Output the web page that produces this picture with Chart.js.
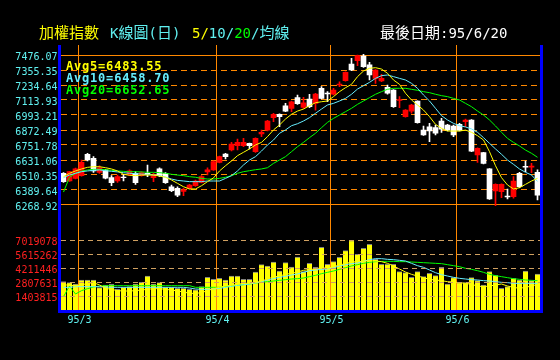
<!DOCTYPE html>
<html><head><meta charset="utf-8">
<script src="https://cdn.jsdelivr.net/npm/chart.js@4.4.1/dist/chart.umd.min.js"></script>
<style>
html,body{margin:0;padding:0;background:#000;}
#wrap{position:relative;width:560px;height:360px;overflow:hidden;background:#000;}
canvas{position:absolute;left:0;top:0;}
.t{position:absolute;white-space:nowrap;font-family:"Noto Sans CJK TC","DejaVu Sans Mono",monospace;font-size:15px;line-height:15px;}
.t .la{font-family:"DejaVu Sans Mono",monospace;font-size:14px;}
.lg{position:absolute;left:66px;white-space:nowrap;font-family:"DejaVu Sans Mono",monospace;font-weight:bold;font-size:12px;line-height:12px;letter-spacing:0.8px;}
</style></head>
<body><div id="wrap"><canvas id="c" width="560" height="360"></canvas>
<div class="t" style="left:39px;top:24px;color:#ffff00">加權指數</div>
<div class="t" style="left:110px;top:24px;color:#60f0f0"><span class="la">K</span>線圖<span class="la">(</span>日<span class="la">)</span></div>
<div class="t" style="left:192px;top:24px;color:#60f0f0"><span class="la" style="color:#ffff00">5/</span><span class="la">10/</span><span class="la" style="color:#00ff00">20</span><span class="la">/</span>均線</div>
<div class="t" id="lastDate" style="left:380px;top:24px;color:#ffffff"></div>
<div class="lg" id="lg5" style="top:60px;color:#ffff00"></div>
<div class="lg" id="lg10" style="top:72px;color:#66eeff"></div>
<div class="lg" id="lg20" style="top:84px;color:#00ff00"></div>
</div>
<script>
const categories = [
'95/02/23','95/02/24','95/02/27',
'95/03/01','95/03/02','95/03/03','95/03/06','95/03/07','95/03/08','95/03/09','95/03/10','95/03/13','95/03/14','95/03/15','95/03/16','95/03/17','95/03/20','95/03/21','95/03/22','95/03/23','95/03/24','95/03/27','95/03/28','95/03/29','95/03/30','95/03/31',
'95/04/03','95/04/04','95/04/06','95/04/07','95/04/10','95/04/11','95/04/12','95/04/13','95/04/14','95/04/17','95/04/18','95/04/19','95/04/20','95/04/21','95/04/24','95/04/25','95/04/26','95/04/27','95/04/28',
'95/05/02','95/05/03','95/05/04','95/05/05','95/05/08','95/05/09','95/05/10','95/05/11','95/05/12','95/05/15','95/05/16','95/05/17','95/05/18','95/05/19','95/05/22','95/05/23','95/05/24','95/05/25','95/05/26','95/05/29','95/05/30',
'95/06/01','95/06/02','95/06/05','95/06/06','95/06/07','95/06/08','95/06/09','95/06/12','95/06/13','95/06/14','95/06/15','95/06/16','95/06/19','95/06/20'];

const open  = [6524,6462,6483,6505,6677,6644,6532,6551,6489,6462, 6494,6510,6524,6505,6524,6489,6559,6524,6416,6403, 6379,6403,6424,6451,6535,6551,6612,6679,6712,6746, 6746,6765,6698,6840,6872,6972,6999,7068,7047,7133, 7055,7122,7087,7208,7170,7160,7235,7270,7404,7430, 7468,7396,7288,7267,7216,7194,7110,6980,7025,7106, 6872,6899,6891,6945,6913,6905,6918,6940,6953,6671, 6690,6559,6382,6376,6340,6336,6524,6580,6574,6532];
const high  = [6529,6540,6566,6631,6685,6658,6585,6556,6505,6510, 6516,6551,6537,6535,6591,6524,6569,6529,6430,6416, 6403,6435,6470,6505,6569,6625,6663,6685,6773,6800, 6805,6768,6810,6872,6950,7007,7002,7087,7106,7154, 7135,7160,7167,7221,7181,7207,7261,7340,7449,7476, 7481,7417,7358,7320,7235,7197,7141,7036,7079,7108, 6905,6926,6913,6966,6918,6913,6926,6961,6956,6730, 6693,6562,6440,6440,6398,6497,6532,6623,6604,6551];
const low   = [6451,6458,6478,6500,6623,6532,6524,6478,6424,6451, 6462,6505,6435,6500,6497,6457,6497,6443,6376,6336, 6344,6398,6418,6446,6510,6548,6607,6639,6704,6712, 6738,6720,6693,6819,6866,6940,6899,7020,7020,7079, 7047,7052,7033,7122,7100,7154,7221,7266,7350,7390, 7377,7275,7248,7262,7160,7055,7052,6975,7007,6928, 6829,6779,6832,6854,6866,6819,6866,6899,6698,6612, 6600,6314,6264,6328,6317,6323,6408,6537,6529,6309];
const close = [6457,6537,6559,6612,6631,6543,6569,6484,6449,6497, 6489,6543,6449,6529,6512,6503,6505,6449,6384,6349, 6390,6430,6462,6497,6551,6618,6658,6658,6760,6773, 6773,6746,6805,6854,6945,6999,6980,7025,7100,7084, 7092,7060,7162,7127,7163,7194,7243,7337,7355,7471, 7382,7315,7355,7288,7168,7060,7118,7033,7074,6932, 6832,6865,6846,6880,6872,6832,6870,6953,6703,6725, 6604,6317,6435,6435,6334,6462,6416,6574,6582,6349];

const ma5  = [6497,6524,6543,6559,6572,6577,6577,6569,6559,6543, 6516,6508,6505,6510,6510,6510,6502,6492,6470,6443, 6416,6398,6398,6424,6457,6487,6543,6585,6623,6666, 6693,6720,6752,6773,6819,6873,6913,6961,6999,7025, 7041,7068,7092,7100,7106,7141,7181,7213,7240,7302, 7347,7369,7374,7363,7329,7275,7240,7168,7114,7074, 7033,6980,6918,6886,6864,6864,6864,6872,6854,6827, 6792,6698,6585,6489,6430,6398,6408,6435,6462,6483.55];
const ma10 = [6489,6510,6524,6537,6543,6548,6551,6545,6540,6535, 6529,6524,6521,6518,6516,6510,6505,6494,6478,6467, 6462,6457,6457,6457,6462,6462,6462,6483,6505,6543, 6591,6631,6658,6703,6752,6792,6846,6873,6907,6923, 6945,6972,7007,7041,7074,7087,7106,7127,7160,7202, 7229,7256,7288,7310,7315,7302,7288,7275,7248,7208, 7154,7106,7047,6988,6953,6926,6907,6897,6881,6854, 6811,6765,6720,6677,6631,6596,6559,6532,6510,6458.70];
const ma20 = [6373,6492,6524,6542,6551,6556,6556,6553,6548,6543, 6540,6537,6537,6535,6532,6532,6529,6524,6516,6510, 6505,6497,6492,6483,6478,6478,6483,6492,6505,6524, 6537,6545,6553,6559,6569,6604,6631,6658,6698,6738, 6773,6811,6846,6891,6934,6966,6993,7020,7047,7079, 7106,7133,7160,7181,7200,7208,7208,7208,7200,7192, 7181,7173,7160,7149,7141,7127,7114,7087,7060,7025, 6993,6953,6905,6854,6805,6773,6744,6711,6685,6652.65];

const volume = [2.84e6,2.74e6,2.60e6,3.01e6,3.01e6,3.01e6,2.24e6,2.51e6,2.57e6,2.07e6, 2.27e6,2.34e6,2.61e6,2.77e6,3.41e6,2.61e6,2.74e6,2.27e6,2.27e6,2.17e6, 2.17e6,2.07e6,2.01e6,2.34e6,3.28e6,3.07e6,3.17e6,3.01e6,3.41e6,3.41e6, 3.07e6,3.07e6,3.81e6,4.55e6,4.41e6,4.81e6,3.91e6,4.75e6,4.31e6,5.31e6, 3.84e6,4.68e6,4.28e6,6.29e6,4.58e6,4.85e6,5.28e6,5.95e6,6.95e6,5.58e6, 6.18e6,6.58e6,5.08e6,4.58e6,4.58e6,4.58e6,3.84e6,3.74e6,3.27e6,3.84e6, 3.34e6,3.67e6,3.44e6,4.28e6,2.61e6,3.24e6,2.74e6,2.74e6,3.24e6,2.94e6, 2.51e6,3.84e6,3.48e6,2.17e6,2.34e6,3.17e6,3.01e6,3.91e6,2.94e6,3.61e6];
const volMa5  = [2.507e6,2.507e6,2.406e6,2.507e6,2.674e6,2.741e6,2.507e6,2.172e6,2.072e6,1.939e6, 1.905e6,1.905e6,1.939e6,2.005e6,2.072e6,2.139e6,2.139e6,2.072e6,2.005e6,1.905e6, 1.805e6,1.671e6,1.671e6,1.738e6,1.939e6,2.139e6,2.273e6,2.406e6,2.473e6,2.573e6, 2.674e6,2.674e6,2.741e6,2.908e6,3.108e6,3.309e6,3.409e6,3.576e6,3.677e6,3.810e6, 3.977e6,4.044e6,4.111e6,4.245e6,4.178e6,4.345e6,4.512e6,4.646e6,4.813e6,4.846e6, 4.880e6,4.947e6,4.913e6,4.846e6,4.679e6,4.412e6,4.111e6,3.810e6,3.576e6,3.409e6, 3.242e6,3.075e6,3.008e6,2.941e6,2.841e6,2.808e6,2.741e6,2.674e6,2.573e6,2.406e6, 2.340e6,2.406e6,2.507e6,2.607e6,2.406e6,2.273e6,2.172e6,2.273e6,2.406e6,2.573e6];
const volMa10 = [2.273e6,2.273e6,2.340e6,2.340e6,2.340e6,2.340e6,2.340e6,2.306e6,2.273e6,2.273e6, 2.273e6,2.273e6,2.273e6,2.273e6,2.273e6,2.273e6,2.273e6,2.273e6,2.273e6,2.273e6, 2.273e6,2.206e6,2.106e6,2.072e6,2.072e6,2.106e6,2.172e6,2.273e6,2.373e6,2.473e6, 2.540e6,2.607e6,2.707e6,2.841e6,3.008e6,3.142e6,3.276e6,3.376e6,3.510e6,3.610e6, 3.777e6,3.944e6,4.011e6,4.078e6,4.111e6,4.245e6,4.412e6,4.546e6,4.646e6,4.713e6, 4.880e6,5.047e6,5.147e6,5.147e6,5.080e6,5.047e6,4.980e6,4.913e6,4.679e6,4.445e6, 4.278e6,4.011e6,3.744e6,3.543e6,3.409e6,3.276e6,3.175e6,3.108e6,3.042e6,3.008e6, 2.941e6,2.908e6,2.841e6,2.774e6,2.741e6,2.674e6,2.674e6,2.674e6,2.674e6,2.674e6];
const volMa20 = [1.337e6,2.406e6,1.604e6,1.939e6,2.139e6,2.306e6,2.406e6,2.440e6,2.440e6,2.440e6, 2.440e6,2.440e6,2.440e6,2.440e6,2.440e6,2.440e6,2.440e6,2.440e6,2.440e6,2.440e6, 2.440e6,2.440e6,2.273e6,2.273e6,2.273e6,2.273e6,2.273e6,2.340e6,2.406e6,2.473e6, 2.540e6,2.607e6,2.707e6,2.774e6,2.841e6,2.908e6,2.975e6,3.042e6,3.108e6,3.142e6, 3.209e6,3.342e6,3.476e6,3.643e6,3.777e6,3.911e6,4.078e6,4.245e6,4.412e6,4.546e6, 4.679e6,4.780e6,4.846e6,4.880e6,4.880e6,4.880e6,4.846e6,4.846e6,4.813e6,4.780e6, 4.746e6,4.713e6,4.679e6,4.646e6,4.546e6,4.445e6,4.345e6,4.178e6,4.078e6,3.944e6, 3.777e6,3.576e6,3.443e6,3.342e6,3.242e6,3.142e6,3.075e6,3.008e6,2.975e6,2.941e6];

const priceTickLabels = ['7476.07','7355.35','7234.64','7113.93','6993.21','6872.49','6751.78','6631.06','6510.35','6389.64','6268.92'];
const volTickLabels = ['7019078','5615262','4211446','2807631','1403815'];

// ---- derived
const priceTicks = priceTickLabels.map(Number);
const volTicks = volTickLabels.map(Number);
const monthOf = c => Number(c.split('/')[1]);
const monthStart = categories.map((c, i) => i > 0 && monthOf(c) !== monthOf(categories[i - 1]));
const xTickLabel = i => monthStart[i] ? categories[i].split('/')[0] + '/' + monthOf(categories[i]) : '';
const candleColor = open.map((o, i) => close[i] >= o ? '#ff0000' : '#ffffff');

const last = categories[categories.length - 1].split('/');
document.getElementById('lastDate').innerHTML = '最後日期<span class="la">:' + last[0] + '/' + Number(last[1]) + '/' + Number(last[2]) + '</span>';
document.getElementById('lg5').textContent = 'Avg5=' + ma5[ma5.length - 1].toFixed(2);
document.getElementById('lg10').textContent = 'Avg10=' + ma10[ma10.length - 1].toFixed(2);
document.getElementById('lg20').textContent = 'Avg20=' + ma20[ma20.length - 1].toFixed(2);

// layout ranges: price panel top 10px above first tick, 21px gap below last tick; 15px per step
const pStep = priceTicks[0] - priceTicks[1];
const priceMax = priceTicks[0] + pStep * 10 / 15;
const priceMin = priceTicks[priceTicks.length - 1] - pStep * 21 / 15;
const vStep = volTicks[0] - volTicks[1];
const volMax = volTicks[0] + vStep;

const ORANGE = '#ff8800';
const CYAN = '#60f0f0';
const monoFont = {family: 'DejaVu Sans Mono', size: 10};

const framePlugin = {
  id: 'frame',
  beforeDatasetsDraw(chart) {
    const {ctx, chartArea: a} = chart;
    const y = chart.scales.y;
    ctx.save();
    ctx.strokeStyle = ORANGE;
    ctx.lineWidth = 1;
    [priceTicks[0], priceTicks[priceTicks.length - 1]].forEach(v => {
      const py = Math.floor(y.getPixelForValue(v)) + 0.5;
      ctx.beginPath(); ctx.moveTo(a.left, py); ctx.lineTo(a.right, py); ctx.stroke();
    });
    ctx.restore();
  },
  afterDraw(chart) {
    const {ctx, chartArea: a} = chart;
    const L = Math.floor(a.left) - 2, R = Math.floor(a.right), T = Math.floor(a.top), B = Math.floor(a.bottom);
    ctx.save();
    ctx.fillStyle = '#0000ff';
    ctx.fillRect(L, T, 3, B - T + 3);
    ctx.fillRect(R, T, 3, B - T + 3);
    ctx.fillRect(L, B, R - L + 3, 3);
    ctx.restore();
  }
};

const lineDs = (data, color, axis) => ({type: 'line', data, yAxisID: axis, borderColor: color, borderWidth: 1, pointRadius: 0, tension: 0, fill: false, order: 0});

new Chart(document.getElementById('c'), {
  data: {
    labels: categories,
    datasets: [
      lineDs(ma5, '#ffff00', 'y'),
      lineDs(ma10, '#66eeff', 'y'),
      lineDs(ma20, '#00ff00', 'y'),
      {type: 'bar', data: open.map((o, i) => [o, close[i]]), yAxisID: 'y', backgroundColor: candleColor, barThickness: 5, grouped: false, order: 1},
      {type: 'bar', data: low.map((l, i) => [l, high[i]]), yAxisID: 'y', backgroundColor: candleColor, barThickness: 1, grouped: false, order: 2},
      lineDs(volMa5, '#ffff00', 'yv'),
      lineDs(volMa10, '#66eeff', 'yv'),
      lineDs(volMa20, '#00ff00', 'yv'),
      {type: 'bar', data: volume, yAxisID: 'yv', backgroundColor: '#ffff00', borderColor: '#808080', borderWidth: {top: 1, right: 0, bottom: 0, left: 0}, barThickness: 5, grouped: false, order: 3}
    ]
  },
  options: {
    responsive: false,
    animation: false,
    devicePixelRatio: 1,
    layout: {padding: {left: 0.5, right: 19.5, top: 45, bottom: 0}},
    plugins: {legend: {display: false}, tooltip: {enabled: false}},
    scales: {
      x: {
        type: 'category',
        offset: true,
        afterFit: s => { s.height = 50; },
        grid: {offset: true, drawTicks: false, lineWidth: 1, color: c => monthStart[c.index] ? ORANGE : 'rgba(0,0,0,0)'},
        border: {display: false},
        ticks: {autoSkip: false, maxRotation: 0, minRotation: 0, padding: 4, labelOffset: -2, color: CYAN, font: monoFont,
          callback: (v, i) => xTickLabel(i)}
      },
      y: {
        type: 'linear', position: 'left', stack: 'panels', stackWeight: 181, weight: 1,
        min: priceMin, max: priceMax,
        afterBuildTicks: s => { s.ticks = priceTicks.map(v => ({value: v})); },
        afterFit: s => { s.width = 60; },
        grid: {color: ORANGE, lineWidth: 1, drawTicks: false},
        border: {display: false, dash: [6, 4]},
        ticks: {autoSkip: false, padding: 3, labelOffset: 2, color: CYAN, font: monoFont, callback: (v, i) => priceTickLabels[i]}
      },
      yv: {
        type: 'linear', position: 'left', stack: 'panels', stackWeight: 84, weight: 0,
        min: 0, max: volMax,
        afterBuildTicks: s => { s.ticks = volTicks.map(v => ({value: v})); },
        afterFit: s => { s.width = 60; },
        grid: {color: '#d0a060', lineWidth: 1, drawTicks: false, z: 1},
        border: {display: false, dash: [5, 4]},
        ticks: {autoSkip: false, padding: 3, labelOffset: 2, color: '#ff2020', font: monoFont, callback: (v, i) => volTickLabels[i]}
      }
    }
  },
  plugins: [framePlugin]
});
</script>
</body></html>
